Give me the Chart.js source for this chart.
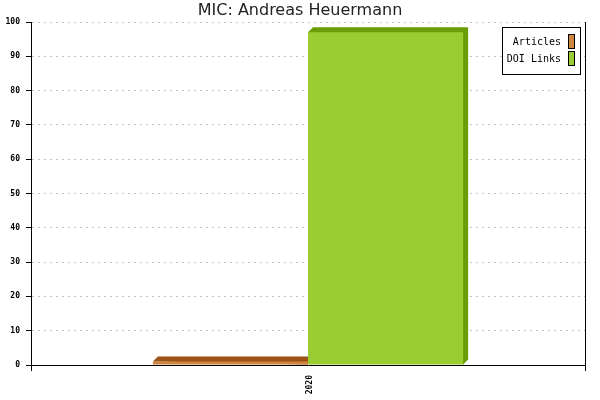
<!DOCTYPE html>
<html>
<head>
<meta charset="utf-8">
<script src="https://cdn.jsdelivr.net/npm/chart.js@4"></script>
<style>
html,body{margin:0;padding:0;background:#fff;}
canvas{display:block;}
</style>
</head>
<body>
<canvas id="c" width="600" height="400"></canvas>
<script>
const chartTitle = 'MIC: Andreas Heuermann';
const categories = ['2020'];
const seriesNames = ['Articles', 'DOI Links'];
const articles = [1];
const doiLinks = [97];
const frontColors = ['#CD853F', '#9ACD32'];
const depthColors = ['#9C5316', '#6A9E04'];

const monoTick = {family: 'DejaVu Sans Mono', size: 8, weight: 'bold'};

const depth3d = {
  id: 'depth3d',
  beforeDatasetsDraw(chart) {
    const ctx = chart.ctx;
    const d = 5;
    chart.data.datasets.forEach((ds, i) => {
      const meta = chart.getDatasetMeta(i);
      meta.data.forEach(bar => {
        const p = bar.getProps(['x', 'y', 'base', 'width'], true);
        const l = p.x - p.width / 2, r = p.x + p.width / 2;
        ctx.save();
        ctx.fillStyle = ds.depthColor;
        ctx.beginPath();
        ctx.moveTo(l, p.y);
        ctx.lineTo(l + d, p.y - d);
        ctx.lineTo(r + d, p.y - d);
        ctx.lineTo(r + d, p.base - d);
        ctx.lineTo(r, p.base);
        ctx.closePath();
        ctx.fill();
        ctx.restore();
      });
    });
  }
};

const boxLegend = {
  id: 'boxLegend',
  afterDraw(chart) {
    const ctx = chart.ctx;
    const ca = chart.chartArea;
    ctx.save();
    ctx.font = '10px "DejaVu Sans Mono"';
    let maxW = 0;
    chart.data.datasets.forEach(ds => { maxW = Math.max(maxW, ctx.measureText(ds.label).width); });
    const padL = 5, gap = 7, bw = 7, bh = 15, padR = 5, rowH = 17, padT = 7, padB = 7;
    const n = chart.data.datasets.length;
    const w = Math.round(padL + maxW + gap + bw + padR);
    const h = padT + n * rowH - 2 + padB + 1;
    const right = ca.right - 5;
    const left = right - w;
    const top = ca.top + 5;
    ctx.fillStyle = '#fff';
    ctx.fillRect(left, top, w, h);
    ctx.strokeStyle = '#000';
    ctx.lineWidth = 1;
    ctx.strokeRect(left + 0.5, top + 0.5, w, h);
    chart.data.datasets.forEach((ds, i) => {
      const by = top + padT + i * rowH;
      const bx = right - padR - bw;
      ctx.fillStyle = ds.backgroundColor;
      ctx.fillRect(bx, by, bw, bh);
      ctx.strokeStyle = '#000';
      ctx.strokeRect(bx + 0.5, by + 0.5, bw - 1, bh - 1);
      ctx.fillStyle = '#000';
      ctx.textAlign = 'right';
      ctx.textBaseline = 'middle';
      ctx.fillText(ds.label, bx - gap, by + bh / 2 + 1);
    });
    ctx.restore();
  }
};

new Chart(document.getElementById('c'), {
  type: 'bar',
  data: {
    labels: categories,
    datasets: [
      {label: seriesNames[0], data: articles, backgroundColor: frontColors[0], depthColor: depthColors[0], borderWidth: 0, yAxisID: 'y'},
      {label: seriesNames[1], data: doiLinks, backgroundColor: frontColors[1], depthColor: depthColors[1], borderWidth: 0, yAxisID: 'y'}
    ]
  },
  options: {
    responsive: false,
    animation: false,
    devicePixelRatio: 1,
    categoryPercentage: 0.56,
    barPercentage: 1,
    layout: {padding: {left: 0, right: 0, top: 0, bottom: 0}},
    plugins: {
      legend: {display: false},
      tooltip: {enabled: false},
      title: {
        display: true,
        text: chartTitle,
        color: '#222',
        font: {family: 'DejaVu Sans', size: 16, weight: 'normal', lineHeight: 1.25},
        padding: {top: 1, bottom: 1}
      }
    },
    scales: {
      x: {
        afterFit(s) { s.height = 35; },
        grid: {
          display: true,
          offset: true,
          drawOnChartArea: false,
          color: '#000',
          tickColor: '#000',
          tickLength: 6,
          lineWidth: 1
        },
        border: {display: true, color: '#000', width: 1},
        ticks: {
          font: monoTick,
          color: '#000',
          minRotation: 90,
          maxRotation: 90,
          autoSkip: false,
          padding: 4,
          labelOffset: 2
        }
      },
      y: {
        min: 0,
        max: 100,
        afterFit(s) { s.width = 31; },
        grid: {
          color: (c) => (c.tick && c.tick.value === 0) ? 'rgba(0,0,0,0)' : '#c0c0c0',
          tickColor: '#000',
          tickLength: 5,
          lineWidth: 1
        },
        border: {display: true, color: '#000', width: 1, dash: [2, 4]},
        ticks: {
          stepSize: 10,
          font: monoTick,
          color: '#000',
          padding: 6
        }
      },
      yRight: {
        position: 'right',
        display: true,
        afterFit(s) { s.width = 15; },
        grid: {display: false, drawTicks: false, drawOnChartArea: false},
        ticks: {display: false},
        border: {display: true, color: '#000', width: 1}
      }
    }
  },
  plugins: [depth3d, boxLegend]
});
</script>
</body>
</html>
